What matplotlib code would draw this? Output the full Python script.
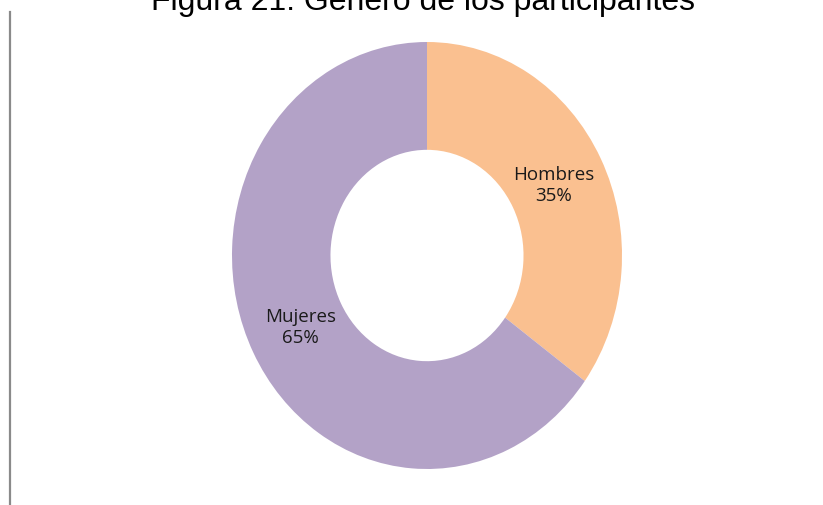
import matplotlib.pyplot as plt
from matplotlib.lines import Line2D

# Participant gender split
categories = ['Hombres', 'Mujeres']
shares = [35, 65]
colors = ['#FAC090', '#B3A2C7']

W, H = 823, 506
fig = plt.figure(figsize=(W / 100, H / 100), dpi=100)

# Donut placed in pixel coordinates (slightly taller than wide)
left, right, top, bottom = 232, 622, 43, 470
ax = fig.add_axes([left / W, 1 - bottom / H, (right - left) / W, (bottom - top) / H])

labels = [f'{c}\n{v}%' for c, v in zip(categories, shares)]
wedges, texts = ax.pie(shares, colors=colors, startangle=90, counterclock=False,
                       radius=1, labels=labels, labeldistance=0.73,
                       wedgeprops=dict(width=0.505, edgecolor='none'),
                       textprops=dict(fontsize=13.5, family='Open Sans', color='#1a1a1a',
                                      linespacing=1.25))
for t in texts:
    t.set_horizontalalignment('center')
    t.set_verticalalignment('center')
ax.set_aspect('auto')
ax.set_xlim(-1, 1)
ax.set_ylim(-1, 1)
ax.axis('off')

fig.text(0.514, 1 - 10 / H, 'Figura 21. Género de los participantes',
         ha='center', va='baseline', fontsize=23, family='Liberation Sans', color='black')

# Thin gray rule on the left edge
fig.add_artist(Line2D([9.5 / W, 9.5 / W], [0, 1 - 13 / H], transform=fig.transFigure,
                      color='#8a8a8a', linewidth=1.6))

fig.savefig('out.png', dpi=100, facecolor='white')
